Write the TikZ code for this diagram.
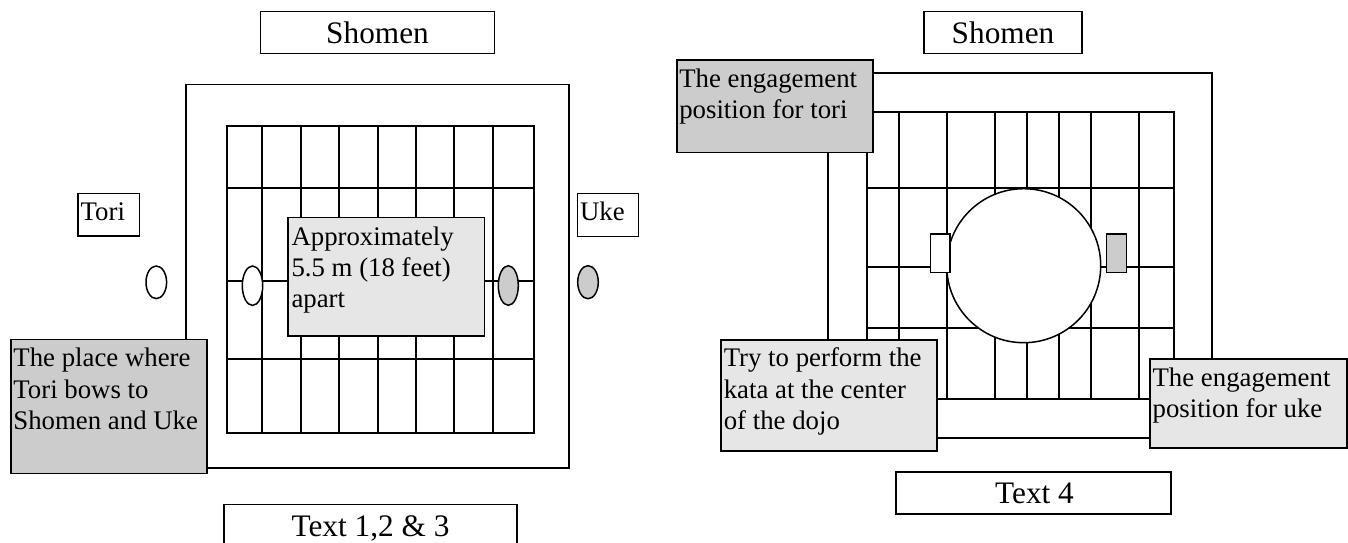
\documentclass[tikz,border=0pt]{standalone}
\usepackage{fontspec}
\setmainfont{Liberation Serif}
\usetikzlibrary{calc}
\definecolor{dgray}{HTML}{CCCCCC}
\definecolor{lgray}{HTML}{E6E6E6}
\newcommand{\boxfont}{\fontsize{26.8}{31.3}\selectfont}
\newcommand{\ttlfont}{\fontsize{31.3}{36}\selectfont}
\begin{document}
\begin{tikzpicture}[x=1pt,y=-1pt,
  gridline/.style={line width=1.8pt},
  shapeline/.style={line width=1.5pt},
  frame/.style={draw, line width=1.3pt, inner sep=0pt, outer sep=0pt, anchor=north west},
  plainbox/.style={frame, fill=white},
  darkbox/.style={frame, fill=dgray},
  lightbox/.style={frame, fill=lgray},
  txt/.style={inner sep=0pt, outer sep=0pt, anchor=base west, font=\boxfont},
  ttl/.style={inner sep=0pt, outer sep=0pt, anchor=base, font=\ttlfont}]

\useasboundingbox (0,0) rectangle (1348,542);

% ---------------- left diagram ----------------
\draw[gridline] (185.7,84.5) rectangle (569.3,467.7);
\foreach \x in {262.3,300.7,339.3,377.7,416,454.3,492.7}
  \draw[gridline] (\x,126) -- (\x,433);
\foreach \y in {188.3,280.7,359}
  \draw[gridline] (226.7,\y) -- (534,\y);
\draw[gridline] (226.7,126) rectangle (534,433);

\draw[shapeline, fill=white] (156.3,282.3) ellipse [x radius=10.3pt, y radius=16.3pt];
\draw[shapeline, fill=white] (252.5,285.7) ellipse [x radius=10.2pt, y radius=19.7pt];
\draw[shapeline, fill=dgray] (508.3,285.5) ellipse [x radius=10pt, y radius=19.8pt];
\draw[shapeline, fill=dgray] (588,282.2) ellipse [x radius=10.3pt, y radius=16.5pt];

\node[plainbox, minimum width=234.4pt, minimum height=42pt] (shomenL) at (260.3,11.3) {};
\node[ttl] (shomenLt) at (377.5,43.3) {Shomen};

\node[plainbox, minimum width=61.3pt, minimum height=42.7pt] (tori) at (78,193.3) {};
\node[txt] (torit) at ($(tori.north west)+(2.7,27.6)$) {Tori};

\node[plainbox, minimum width=61pt, minimum height=43pt] (uke) at (577.3,193.3) {};
\node[txt] (uket) at ($(uke.north west)+(2.7,27.4)$) {Uke};

\node[lightbox, minimum width=196.3pt, minimum height=118.7pt] (approx) at (288,217.3) {};
\node[txt] (approxt) at ($(approx.north west)+(3.5,27.7)$)
  {\parbox[t]{230pt}{Approximately\\5.5 m (18 feet)\\apart}};

\node[darkbox, minimum width=196pt, minimum height=134pt] (place) at (11,339.3) {};
\node[txt] (placet) at ($(place.north west)+(2.4,27.4)$)
  {\parbox[t]{230pt}{The place where\\Tori bows to\\Shomen and Uke}};

\node[plainbox, minimum width=293pt, minimum height=60pt] (text123) at (224,504.3) {};
\node[ttl] (text123t) at (370.5,536) {Text 1,2 \& 3};

% ---------------- right diagram ----------------
\draw[gridline] (828,73.3) rectangle (1212.3,438);
\foreach \x in {899,946.7,994.7,1026.7,1058.7,1090.7,1139}
  \draw[gridline] (\x,111.7) -- (\x,399);
\foreach \y in {188.3,266.7,327.7}
  \draw[gridline] (866.7,\y) -- (1174,\y);
\draw[gridline] (866.7,111.7) rectangle (1174,399);

\draw[shapeline, fill=white] (1023.7,265.7) circle [radius=77pt];
\draw[shapeline, fill=white] (930.7,234) rectangle (950,272.7);
\draw[shapeline, fill=dgray] (1106.7,234) rectangle (1126.7,272.7);

\node[plainbox, minimum width=158pt, minimum height=42pt] (shomenR) at (924,11.3) {};
\node[ttl] (shomenRt) at (1003,43.3) {Shomen};

\node[darkbox, minimum width=196pt, minimum height=92.5pt] (engtori) at (677,60) {};
\node[txt] (engtorit) at ($(engtori.north west)+(2.3,27.3)$)
  {\parbox[t]{230pt}{The engagement\\position for tori}};

\node[lightbox, minimum width=216pt, minimum height=111pt] (try) at (721,340) {};
\node[txt] (tryt) at ($(try.north west)+(2.8,26.7)$)
  {\parbox[t]{230pt}{Try to perform the\\kata at the center\\of the dojo}};

\node[lightbox, minimum width=197pt, minimum height=89pt] (enguke) at (1150,359) {};
\node[txt] (engukt) at ($(enguke.north west)+(2.6,27)$)
  {\parbox[t]{230pt}{The engagement\\position for uke}};

\node[plainbox, minimum width=275pt, minimum height=42pt] (text4) at (896,472) {};
\node[ttl] (text4t) at (1034.5,503.3) {Text 4};

\end{tikzpicture}
\end{document}
